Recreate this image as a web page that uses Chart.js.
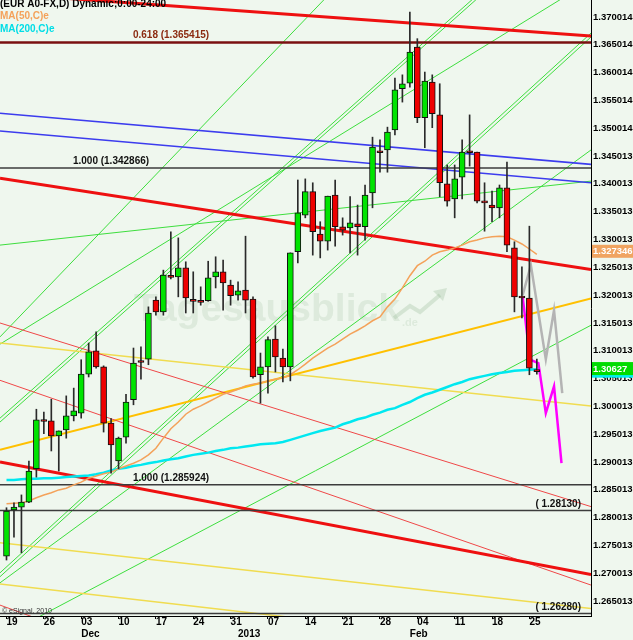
<!DOCTYPE html>
<html>
<head>
<meta charset="utf-8">
<title>EUR A0-FX daily</title>
<script src="https://cdn.jsdelivr.net/npm/chart.js@4.4.1/dist/chart.umd.min.js"></script>
<style>
  html, body { margin: 0; padding: 0; background: #eff7ee; overflow: hidden; }
  #wrap { width: 633px; height: 640px; }
</style>
</head>
<body>
<div id="wrap"><canvas id="chart" width="633" height="640"></canvas></div>
<script>
// trading day index: 0 = Mon 19 Nov 2012 ... 71 = Tue 26 Feb 2013
const candleOpen = [
  1.2731, 1.2814, 1.2819, 1.2828, 1.2888, 1.2974, 1.2974, 1.2947, 1.2958, 1.2983,
  1.2988, 1.3058, 1.3100, 1.3071, 1.2970, 1.2902, 1.2945, 1.3012, 1.3080, 1.3085,
  1.3191, 1.3170, 1.3233, 1.3233, 1.3249, 1.3190, 1.3188, 1.3190, 1.3233, 1.3242,
  1.3218, 1.3200, 1.3209, 1.3193, 1.3057, 1.3071, 1.3121, 1.3087, 1.3071, 1.3278,
  1.3344, 1.3386, 1.3310, 1.3297, 1.3380, 1.3323, 1.3321, 1.3328, 1.3323, 1.3384,
  1.3457, 1.3461, 1.3497, 1.3571, 1.3581, 1.3646, 1.3519, 1.3583, 1.3524, 1.3400,
  1.3373, 1.3412, 1.3457, 1.3457, 1.3368, 1.3362, 1.3357, 1.3393, 1.3285, 1.3197,
  1.3195, 1.3066
];
const candleHigh = [
  1.2818, 1.2827, 1.2841, 1.2902, 1.2995, 1.2990, 1.3013, 1.2956, 1.3019, 1.3033,
  1.3084, 1.3114, 1.3134, 1.3073, 1.2978, 1.2945, 1.3022, 1.3105, 1.3107, 1.3179,
  1.3197, 1.3245, 1.3314, 1.3303, 1.3260, 1.3242, 1.3215, 1.3261, 1.3269, 1.3263,
  1.3227, 1.3224, 1.3306, 1.3197, 1.3096, 1.3125, 1.3145, 1.3103, 1.3276, 1.3407,
  1.3409, 1.3402, 1.3332, 1.3378, 1.3407, 1.3339, 1.3377, 1.3362, 1.3398, 1.3484,
  1.3479, 1.3502, 1.3590, 1.3596, 1.3709, 1.3661, 1.3601, 1.3596, 1.3580, 1.3434,
  1.3434, 1.3479, 1.3524, 1.3457, 1.3402, 1.3387, 1.3398, 1.3439, 1.3296, 1.3251,
  1.3324, 1.3085
];
const candleLow = [
  1.2724, 1.2765, 1.2737, 1.2827, 1.2873, 1.2951, 1.2920, 1.2884, 1.2943, 1.2974,
  1.2979, 1.3053, 1.3069, 1.2954, 1.2880, 1.2888, 1.2934, 1.3003, 1.3049, 1.3075,
  1.3164, 1.3164, 1.3229, 1.3197, 1.3168, 1.3168, 1.3182, 1.3189, 1.3213, 1.3173,
  1.3182, 1.3191, 1.3168, 1.3051, 1.3006, 1.3024, 1.3062, 1.3044, 1.3046, 1.3258,
  1.3339, 1.3272, 1.3267, 1.3281, 1.3288, 1.3308, 1.3276, 1.3272, 1.3299, 1.3357,
  1.3421, 1.3421, 1.3488, 1.3547, 1.3574, 1.3510, 1.3465, 1.3501, 1.3377, 1.3360,
  1.3339, 1.3373, 1.3432, 1.3366, 1.3315, 1.3332, 1.3339, 1.3278, 1.3170, 1.3159,
  1.3057, 1.3058
];
const candleClose = [
  1.2812, 1.2819, 1.2828, 1.2884, 1.2976, 1.2973, 1.2947, 1.2956, 1.2983, 1.2992,
  1.3058, 1.3098, 1.3071, 1.2970, 1.2931, 1.2943, 1.3008, 1.3078, 1.3079, 1.3168,
  1.3170, 1.3236, 1.3232, 1.3249, 1.3195, 1.3189, 1.3187, 1.3231, 1.3242, 1.3222,
  1.3199, 1.3208, 1.3191, 1.3053, 1.3071, 1.3120, 1.3089, 1.3071, 1.3276, 1.3348,
  1.3386, 1.3314, 1.3297, 1.3378, 1.3323, 1.3317, 1.3330, 1.3323, 1.3380, 1.3466,
  1.3456, 1.3493, 1.3569, 1.3580, 1.3637, 1.3519, 1.3585, 1.3526, 1.3402, 1.3369,
  1.3409, 1.3457, 1.3456, 1.3369, 1.3366, 1.3357, 1.3393, 1.3290, 1.3197, 1.3195,
  1.3069, 1.30627
];

// MA(50,C)e and MA(200,C)e
const ma50 = [
  1.2825, 1.2826, 1.2827, 1.2830, 1.2836, 1.2841, 1.2845, 1.2850, 1.2853, 1.2859,
  1.2864, 1.2871, 1.2875, 1.2879, 1.2882, 1.2888, 1.2893, 1.2898, 1.2904, 1.2913,
  1.2925, 1.2943, 1.2960, 1.2972, 1.2986, 1.2995, 1.3001, 1.3008, 1.3015, 1.3022,
  1.3026, 1.3031, 1.3037, 1.3040, 1.3042, 1.3046, 1.3049, 1.3051, 1.3057, 1.3066,
  1.3076, 1.3087, 1.3096, 1.3105, 1.3112, 1.3121, 1.3130, 1.3137, 1.3145, 1.3154,
  1.3161, 1.3179, 1.3193, 1.3213, 1.3235, 1.3253, 1.3261, 1.3272, 1.3278, 1.3281,
  1.3285, 1.3290, 1.3296, 1.3299, 1.3303, 1.3305, 1.3306, 1.3305, 1.3299, 1.3292,
  1.3283, 1.327346
];
const ma200 = [
  1.2868, 1.2868, 1.2869, 1.2870, 1.2870, 1.2871, 1.2871, 1.2872, 1.2873, 1.2874,
  1.2875, 1.2876, 1.2878, 1.2881, 1.2885, 1.2888, 1.2890, 1.2893, 1.2895, 1.2898,
  1.2900, 1.2903, 1.2905, 1.2907, 1.2910, 1.2913, 1.2915, 1.2917, 1.2920, 1.2922,
  1.2925, 1.2926, 1.2928, 1.2930, 1.2932, 1.2933, 1.2934, 1.2936, 1.2940, 1.2944,
  1.2948, 1.2952, 1.2956, 1.2959, 1.2962, 1.2968, 1.2972, 1.2977, 1.2980, 1.2985,
  1.2989, 1.2994, 1.2997, 1.3003, 1.3008, 1.3015, 1.3021, 1.3025, 1.3030, 1.3035,
  1.3040, 1.3044, 1.3049, 1.3052, 1.3055, 1.3058, 1.3060, 1.3062, 1.3064, 1.3065,
  1.3066, 1.3067
];

// hand drawn scenarios after the last candle
const projUpX = [69.1, 70.2, 72.2, 73.3, 74.4];
const projUpY = [1.3200, 1.3254, 1.3085, 1.3173, 1.3024];
const projDownX = [69.1, 70.1, 71.2, 72.2, 73.3, 74.3];
const projDownY = [1.3197, 1.3084, 1.3078, 1.2988, 1.3036, 1.2898];

// axis ticks
const dayTicks = [0, 5, 10, 15, 20, 25, 30, 35, 40, 45, 50, 55, 60, 65, 70];
const dayTickLabels = ['19', '26', '03', '10', '17', '24', '31', '07', '14', '21', '28', '04', '11', '18', '25'];
const monthTicks = [10, 31, 54];
const monthTickLabels = ['Dec', '2013', 'Feb'];
const yTickLabels = [
  '1.265013', '1.270013', '1.275013', '1.280013', '1.285013', '1.290013', '1.295013',
  '1.300013', '1.305013', '1.310013', '1.315013', '1.320013', '1.325013', '1.330013',
  '1.335013', '1.340013', '1.345013', '1.350014', '1.355014', '1.360014', '1.365014', '1.370014'
];

// horizontal levels
const fibLevels = [1.365415, 1.342866, 1.285924, 1.28130, 1.26280];
const fibTexts = ['0.618 (1.365415)', '1.000 (1.342866)', '1.000 (1.285924)', '( 1.28130)', '( 1.26280)'];

// trend lines: [[day index, price], [day index, price]]
const redThickLines = [
  [[-0.87, 1.3742], [78.25, 1.3666]],
  [[-0.87, 1.3410], [78.25, 1.3246]],
  [[-0.87, 1.2900], [78.25, 1.2698]],
];
const redThinLines = [
  [[-0.87, 1.3150], [78.25, 1.2820]],
  [[-0.87, 1.3047], [78.25, 1.2679]],
  [[-0.87, 1.2643], [7.16, 1.2604]],
];
const blueLines = [
  [[-0.87, 1.3527], [78.25, 1.3435]],
  [[-0.87, 1.3495], [78.25, 1.3402]],
];
const goldLines = [
  [[-0.87, 1.2922], [78.25, 1.3194]],
];
const yellowLines = [
  [[-0.87, 1.3114], [78.25, 1.3001]],
  [[-0.87, 1.2755], [78.25, 1.2637]],
  [[-0.87, 1.2681], [39.29, 1.2619]],
];
const greenLines = [
  [[-0.87, 1.3125], [42.50, 1.3731]],
  [[-0.87, 1.3112], [74.10, 1.3731]],
  [[-0.87, 1.2701], [78.25, 1.3671]],
  [[-0.87, 1.2694], [78.25, 1.3664]],
  [[-0.87, 1.2979], [62.32, 1.3731]],
  [[-0.87, 1.2972], [62.85, 1.3731]],
  [[4.49, 1.2623], [78.25, 1.3146]],
  [[-0.87, 1.3290], [78.25, 1.3405]],
  [[-0.87, 1.2683], [78.25, 1.3461]],
];

const xMin = -0.87;
const xMax = 78.25;
const yMin = 1.26234;
const yMax = 1.37305;

const FONT = '"Liberation Sans", Arial, sans-serif';
const BG = '#eff7ee';

function trendSet(segment, color, width, order) {
  return {
    type: 'line',
    data: segment.map((p) => ({ x: p[0], y: p[1] })),
    borderColor: color,
    borderWidth: width,
    pointRadius: 0,
    tension: 0,
    order: order,
  };
}

const days = candleOpen.map((_, i) => i);
const datasets = [];

// candle bodies on top, wicks just under them
datasets.push({
  type: 'bar',
  data: days.map((i) => ({ x: i, y: [candleOpen[i], candleClose[i]] })),
  backgroundColor: days.map((i) => (candleClose[i] > candleOpen[i] ? '#00e400' : '#ee0000')),
  borderColor: '#111',
  borderWidth: 1,
  borderSkipped: false,
  barThickness: 6,
  minBarLength: 2,
  grouped: false,
  order: 0,
});
datasets.push({
  type: 'bar',
  data: days.map((i) => ({ x: i, y: [candleLow[i], candleHigh[i]] })),
  backgroundColor: '#2a2a2a',
  barThickness: 1,
  grouped: false,
  order: 1,
});

datasets.push(trendSet(projDownX.map((x, i) => [x, projDownY[i]]), '#ff00ff', 2.5, 2));
datasets.push(trendSet(projUpX.map((x, i) => [x, projUpY[i]]), '#b4b4b4', 2.5, 2));

datasets.push(trendSet(days.map((i) => [i, ma50[i]]), '#f4a25a', 1.5, 3));
datasets.push(trendSet(days.map((i) => [i, ma200[i]]), '#00e8f0', 2.5, 3));

fibLevels.forEach((v, k) => {
  datasets.push(trendSet([[xMin, v], [xMax, v]], k === 0 ? '#7a1010' : '#3c3c3c', k === 0 ? 2.5 : 1.5, 4));
});

redThickLines.forEach((s) => datasets.push(trendSet(s, '#ee1010', 3, 5)));
redThinLines.forEach((s) => datasets.push(trendSet(s, '#f04848', 1, 5)));
blueLines.forEach((s) => datasets.push(trendSet(s, '#3c3cee', 1.6, 5)));
goldLines.forEach((s) => datasets.push(trendSet(s, '#ffc000', 2, 5)));
yellowLines.forEach((s) => datasets.push(trendSet(s, '#f0dc50', 1.5, 5)));
greenLines.forEach((s) => datasets.push(trendSet(s, '#3ede3e', 1, 6)));

// texts, watermark, price tags
const chartDecor = {
  id: 'chartDecor',
  beforeDraw(chart) {
    const { ctx, width, height } = chart;
    ctx.save();
    ctx.fillStyle = BG;
    ctx.fillRect(0, 0, width, height);
    ctx.restore();
  },
  beforeDatasetsDraw(chart) {
    const { ctx } = chart;
    ctx.save();
    ctx.fillStyle = 'rgba(150, 185, 150, 0.2)';
    ctx.font = 'bold 39px ' + FONT;
    ctx.textBaseline = 'alphabetic';
    ctx.fillText('Tagesausblick', 134, 321);
    ctx.font = 'bold 11px ' + FONT;
    ctx.fillText('.de', 402, 326);
    ctx.strokeStyle = 'rgba(150, 185, 150, 0.3)';
    ctx.lineWidth = 4;
    ctx.beginPath();
    ctx.moveTo(394, 318);
    ctx.lineTo(410, 306);
    ctx.lineTo(420, 312);
    ctx.lineTo(440, 295);
    ctx.stroke();
    ctx.beginPath();
    ctx.fillStyle = 'rgba(150, 185, 150, 0.3)';
    ctx.moveTo(447, 288);
    ctx.lineTo(433, 291);
    ctx.lineTo(443, 301);
    ctx.closePath();
    ctx.fill();
    ctx.restore();
  },
  afterDatasetsDraw(chart) {
    const { ctx } = chart;
    const y = chart.scales.y;
    const spots = [
      { x: 171, align: 'center', dy: -7, color: '#8b2a10' },
      { x: 111, align: 'center', dy: -7, color: '#111' },
      { x: 171, align: 'center', dy: -7, color: '#111' },
      { x: 581, align: 'right', dy: -6, color: '#111' },
      { x: 581, align: 'right', dy: -6, color: '#111' },
    ];
    ctx.save();
    ctx.font = 'bold 10px ' + FONT;
    ctx.textBaseline = 'middle';
    fibLevels.forEach((v, k) => {
      ctx.fillStyle = spots[k].color;
      ctx.textAlign = spots[k].align;
      ctx.fillText(fibTexts[k], spots[k].x, y.getPixelForValue(v) + spots[k].dy);
    });
    ctx.restore();
  },
  afterDraw(chart) {
    const { ctx } = chart;
    const y = chart.scales.y;
    const last = candleClose.length - 1;
    ctx.save();
    ctx.font = 'bold 10px ' + FONT;
    ctx.textBaseline = 'middle';
    ctx.textAlign = 'left';

    // legend
    ctx.fillStyle = '#000';
    ctx.fillText('(EUR A0-FX,D) Dynamic;0:00-24:00', 0, 4);
    ctx.fillStyle = '#f4a25a';
    ctx.fillText('MA(50,C)e', 0, 16);
    ctx.fillStyle = '#00dde6';
    ctx.fillText('MA(200,C)e', 0, 29);

    // last value tags on the price axis
    ctx.font = 'bold 9.5px ' + FONT;
    const tag = (value, text, bg, dy) => {
      const py = y.getPixelForValue(value) + dy;
      ctx.fillStyle = bg;
      ctx.fillRect(592, py - 6.5, 41, 13);
      if (text) {
        ctx.fillStyle = '#fff';
        ctx.fillText(text, 593, py + 0.5);
      }
    };
    tag(ma200[last], '', '#00f0f0', 2);
    tag(candleClose[last], String(candleClose[last]), '#00dc00', -3);
    tag(ma50[last], String(ma50[last]), '#f0a461', -3);

    ctx.font = '7px ' + FONT;
    ctx.fillStyle = '#333';
    ctx.fillText('\u00a9 eSignal, 2010', 2, 611);
    ctx.restore();
  },
};

const tickFont = { family: FONT, size: 10, weight: 'bold' };

function noSidePadding(axis) {
  axis.paddingLeft = 0;
  axis.paddingRight = 0;
  axis.paddingTop = 0;
  axis.paddingBottom = 0;
}

new Chart(document.getElementById('chart'), {
  type: 'bar',
  data: { datasets },
  options: {
    responsive: false,
    animation: false,
    events: [],
    layout: { padding: 0 },
    plugins: { legend: { display: false }, tooltip: { enabled: false } },
    scales: {
      x: {
        type: 'linear',
        position: 'bottom',
        weight: 0,
        min: xMin,
        max: xMax,
        offset: false,
        afterBuildTicks: (axis) => { axis.ticks = dayTicks.map((v) => ({ value: v })); },
        afterFit: (axis) => { axis.height = 13; noSidePadding(axis); },
        grid: { display: true, drawOnChartArea: false, drawTicks: true, tickLength: 3, color: '#000', offset: false },
        border: { display: true, color: '#000', width: 1 },
        ticks: {
          align: 'start',
          autoSkip: false,
          maxRotation: 0,
          padding: -3,
          color: '#000',
          font: tickFont,
          callback: (v) => dayTickLabels[dayTicks.indexOf(v)] || '',
        },
      },
      x2: {
        type: 'linear',
        position: 'bottom',
        weight: 1,
        min: xMin,
        max: xMax,
        offset: false,
        afterBuildTicks: (axis) => { axis.ticks = monthTicks.map((v) => ({ value: v })); },
        afterFit: (axis) => { axis.height = 11; noSidePadding(axis); },
        grid: { display: false, drawTicks: false, offset: false },
        border: { display: false },
        ticks: {
          align: 'start',
          autoSkip: false,
          maxRotation: 0,
          padding: -1,
          color: '#000',
          font: tickFont,
          callback: (v) => monthTickLabels[monthTicks.indexOf(v)] || '',
        },
      },
      y: {
        type: 'linear',
        position: 'right',
        min: yMin,
        max: yMax,
        afterBuildTicks: (axis) => { axis.ticks = yTickLabels.map((s) => ({ value: Number(s) })); },
        afterFit: (axis) => { axis.width = 42; noSidePadding(axis); },
        grid: { display: false, drawTicks: false },
        border: { display: true, color: '#000', width: 1 },
        ticks: {
          padding: 2,
          color: '#000',
          font: { family: FONT, size: 9.5, weight: 'bold' },
          callback: (v, i) => yTickLabels[i],
        },
      },
    },
  },
  plugins: [chartDecor],
});
</script>
</body>
</html>
